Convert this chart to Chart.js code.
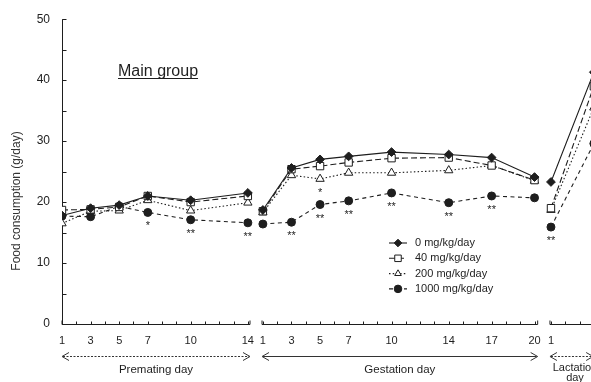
<!DOCTYPE html>
<html><head><meta charset="utf-8">
<script src="https://cdn.jsdelivr.net/npm/chart.js@4.4.0/dist/chart.umd.min.js"></script>
<style>html,body{margin:0;padding:0;background:#fff}#wrap{width:591px;height:382px;position:relative}</style>
</head><body><div id="wrap"><canvas id="c" width="591" height="382"></canvas></div>
<script>
// ---- data ----
const premDays = [1, 3, 5, 7, 10, 14];
const gestDays = [1, 3, 5, 7, 10, 14, 17, 20];
const lactDays = [1, 4];

const premTickLabels = ['1', '3', '5', '7', '10', '14'];
const gestTickLabels = ['1', '3', '5', '7', '10', '14', '17', '20'];
const lactTickLabels = ['1'];
const yTickValues = [0, 10, 20, 30, 40, 50];

const doseLabels = ['0 mg/kg/day', '40 mg/kg/day', '200 mg/kg/day', '1000 mg/kg/day'];

const dose0Prem = [17.8, 19.0, 19.5, 21.0, 20.3, 21.5];
const dose0Gest = [18.7, 25.6, 27.0, 27.5, 28.2, 27.8, 27.3, 24.1];
const dose0Lact = [23.3, 41.3];

const dose40Prem = [18.7, 18.8, 19.2, 21.0, 20.0, 21.0];
const dose40Gest = [18.5, 25.4, 25.9, 26.5, 27.2, 27.3, 26.0, 23.6];
const dose40Lact = [19.0, 39.0];

const dose200Prem = [16.5, 18.5, 18.6, 20.3, 18.6, 19.9];
const dose200Gest = [18.3, 24.4, 23.8, 24.8, 24.8, 25.2, 26.0, 23.5];
const dose200Lact = [18.7, 35.5];

const dose1000Prem = [17.7, 17.6, 19.3, 18.3, 17.1, 16.6];
const dose1000Gest = [16.4, 16.7, 19.6, 20.2, 21.5, 19.9, 21.0, 20.7];
const dose1000Lact = [15.9, 29.6];

const sig200Gest = ['', '', '*', '', '', '', '', ''];
const sig1000Prem = ['', '', '', '*', '**', '**'];
const sig1000Gest = ['', '**', '**', '**', '**', '**', '**', ''];
const sig1000Lact = ['**', ''];

const periodLabels = ['Premating day', 'Gestation day', 'Lactation', 'day'];
const panelTitle = 'Main group';
const yTitle = 'Food consumption (g/day)';

// ---- layout of the broken x axis (segment offsets in day units) ----
const GEST_OFF = 14.05;
const LACT_OFF = 34.2;
const X_MIN = 1, X_MAX = 38;
const INK = '#1e1e1e';
const FONT = 'Arial, "Liberation Sans", sans-serif';

function series(prem, gest, lact) {
  const pts = [];
  premDays.forEach((d, i) => pts.push({x: d, y: prem[i]}));
  pts.push({x: 14.6, y: null});
  gestDays.forEach((d, i) => pts.push({x: d + GEST_OFF, y: gest[i]}));
  pts.push({x: 34.6, y: null});
  lactDays.forEach((d, i) => pts.push({x: d + LACT_OFF, y: lact[i]}));
  return pts;
}

const styles = [
  {dash: [], point: 'rectRot', r: 4.4, fill: INK},
  {dash: [6, 3], point: 'rect', r: 5.2, fill: '#fff'},
  {dash: [1.5, 2.2], point: 'triangle', r: 4.8, fill: '#fff'},
  {dash: [4, 3.5], point: 'circle', r: 4, fill: INK}
];
const seriesData = [
  series(dose0Prem, dose0Gest, dose0Lact),
  series(dose40Prem, dose40Gest, dose40Lact),
  series(dose200Prem, dose200Gest, dose200Lact),
  series(dose1000Prem, dose1000Gest, dose1000Lact)
];

const datasets = seriesData.map((d, i) => ({
  label: doseLabels[i],
  data: d,
  borderColor: INK,
  borderWidth: 1.1,
  borderDash: styles[i].dash,
  pointStyle: styles[i].point,
  pointRadius: styles[i].r,
  pointBorderWidth: 1,
  pointBorderColor: INK,
  pointBackgroundColor: styles[i].fill,
  spanGaps: false,
  tension: 0
}));

function drawMarker(ctx, style, x, y, r, fill) {
  ctx.save();
  ctx.setLineDash([]);
  ctx.beginPath();
  if (style === 'rectRot') {
    ctx.moveTo(x, y - r); ctx.lineTo(x + r, y); ctx.lineTo(x, y + r); ctx.lineTo(x - r, y); ctx.closePath();
  } else if (style === 'rect') {
    const s = r * Math.SQRT1_2;
    ctx.rect(x - s, y - s, 2 * s, 2 * s);
  } else if (style === 'triangle') {
    ctx.moveTo(x, y - r); ctx.lineTo(x + r * 0.87, y + r * 0.5); ctx.lineTo(x - r * 0.87, y + r * 0.5); ctx.closePath();
  } else {
    ctx.arc(x, y, r, 0, Math.PI * 2);
  }
  ctx.fillStyle = fill; ctx.fill();
  ctx.strokeStyle = INK; ctx.lineWidth = 1; ctx.stroke();
  ctx.restore();
}

function arrow(ctx, x0, x1, y, dash) {
  ctx.save();
  ctx.strokeStyle = '#333'; ctx.lineWidth = 1;
  ctx.setLineDash(dash);
  ctx.beginPath(); ctx.moveTo(x0 + 1, y); ctx.lineTo(x1 - 1, y); ctx.stroke();
  ctx.setLineDash([]);
  ctx.beginPath();
  ctx.moveTo(x0 + 7, y - 4); ctx.lineTo(x0, y); ctx.lineTo(x0 + 7, y + 4);
  ctx.moveTo(x1 - 7, y - 4); ctx.lineTo(x1, y); ctx.lineTo(x1 - 7, y + 4);
  ctx.stroke();
  ctx.restore();
}

const decor = {
  id: 'decor',
  beforeDatasetsDraw(chart) {
    const ctx = chart.ctx, xs = chart.scales.x, ys = chart.scales.y, ca = chart.chartArea;
    ctx.save();
    ctx.strokeStyle = INK; ctx.lineWidth = 1;
    // y axis
    const ax = Math.round(ca.left) + 0.5;
    ctx.beginPath(); ctx.moveTo(ax, ys.getPixelForValue(50)); ctx.lineTo(ax, ys.getPixelForValue(0)); ctx.stroke();
    for (let v = 0; v <= 50; v += 5) {
      const py = Math.round(ys.getPixelForValue(v)) + 0.5;
      ctx.beginPath(); ctx.moveTo(ax, py); ctx.lineTo(ax + 4, py); ctx.stroke();
    }
    // broken x axis
    const by = Math.round(ys.getPixelForValue(0)) + 0.5;
    const segs = [
      {a: 1, b: 14.15, ticks: Array.from({length: 14}, (_, i) => i + 1)},
      {a: 0.94 + GEST_OFF, b: 20.22 + GEST_OFF, ticks: Array.from({length: 20}, (_, i) => i + 1 + GEST_OFF)},
      {a: 0.93 + LACT_OFF, b: 6 + LACT_OFF, ticks: [1, 2, 3, 4].map(d => d + LACT_OFF)}
    ];
    segs.forEach(s => {
      const pa = xs.getPixelForValue(s.a), pb = xs.getPixelForValue(s.b);
      ctx.beginPath(); ctx.moveTo(pa, by); ctx.lineTo(pb, by); ctx.stroke();
      ctx.beginPath(); ctx.moveTo(pa, by); ctx.lineTo(pa, by - 4); ctx.moveTo(pb, by); ctx.lineTo(pb, by - 4); ctx.stroke();
      s.ticks.forEach(t => {
        const px = Math.round(xs.getPixelForValue(t)) + 0.5;
        ctx.beginPath(); ctx.moveTo(px, by); ctx.lineTo(px, by - 3); ctx.stroke();
      });
    });
    ctx.restore();
  },
  afterDraw(chart) {
    const ctx = chart.ctx, xs = chart.scales.x, ys = chart.scales.y, ca = chart.chartArea;
    ctx.save();
    ctx.fillStyle = INK;
    // x tick labels
    ctx.font = '11px ' + FONT; ctx.textAlign = 'center'; ctx.textBaseline = 'middle';
    const ly = ys.getPixelForValue(0) + 17;
    premDays.forEach((d, i) => ctx.fillText(premTickLabels[i], xs.getPixelForValue(d), ly));
    gestDays.forEach((d, i) => ctx.fillText(gestTickLabels[i], xs.getPixelForValue(d + GEST_OFF), ly));
    ctx.fillText(lactTickLabels[0], xs.getPixelForValue(lactDays[0] + LACT_OFF), ly);
    // period arrows
    const ay = ys.getPixelForValue(0) + 32.5;
    arrow(ctx, xs.getPixelForValue(1), xs.getPixelForValue(14.15), ay, [2, 1.5]);
    arrow(ctx, xs.getPixelForValue(0.94 + GEST_OFF), xs.getPixelForValue(20.22 + GEST_OFF), ay, []);
    arrow(ctx, xs.getPixelForValue(0.93 + LACT_OFF), xs.getPixelForValue(3.95 + LACT_OFF), ay, [2, 1.5]);
    ctx.font = '11.5px ' + FONT;
    const ty = ys.getPixelForValue(0) + 46;
    ctx.fillText(periodLabels[0], (xs.getPixelForValue(1) + xs.getPixelForValue(14.15)) / 2, ty);
    ctx.fillText(periodLabels[1], (xs.getPixelForValue(0.94 + GEST_OFF) + xs.getPixelForValue(20.22 + GEST_OFF)) / 2, ty);
    ctx.font = '11px ' + FONT;
    ctx.fillText(periodLabels[2], 575, ty - 2);
    ctx.fillText(periodLabels[3], 575, ty + 8);
    // y title
    ctx.save();
    ctx.translate(17, 201); ctx.rotate(-Math.PI / 2);
    ctx.font = '12px ' + FONT; ctx.fillStyle = '#333';
    ctx.fillText(yTitle, 0, 0);
    ctx.restore();
    // panel title
    ctx.font = '16px ' + FONT; ctx.textAlign = 'left'; ctx.textBaseline = 'alphabetic';
    ctx.fillText(panelTitle, 118, 76);
    const w = ctx.measureText(panelTitle).width;
    ctx.fillRect(118, 78, w, 1);
    // significance marks
    ctx.font = '11px ' + FONT; ctx.textAlign = 'center';
    const star = (xv, yv, s) => { if (s) ctx.fillText(s, xs.getPixelForValue(xv), ys.getPixelForValue(yv) + 17); };
    premDays.forEach((d, i) => star(d, dose1000Prem[i], sig1000Prem[i]));
    gestDays.forEach((d, i) => star(d + GEST_OFF, dose1000Gest[i], sig1000Gest[i]));
    gestDays.forEach((d, i) => star(d + GEST_OFF, dose200Gest[i], sig200Gest[i]));
    lactDays.forEach((d, i) => star(d + LACT_OFF, dose1000Lact[i], sig1000Lact[i]));
    // legend
    ctx.textBaseline = 'middle'; ctx.textAlign = 'left'; ctx.font = '11px ' + FONT;
    doseLabels.forEach((lab, i) => {
      const y = 243 + i * 15.3;
      ctx.save();
      ctx.strokeStyle = INK; ctx.lineWidth = 1.1; ctx.setLineDash(styles[i].dash);
      ctx.beginPath(); ctx.moveTo(389, y); ctx.lineTo(407, y); ctx.stroke();
      ctx.restore();
      drawMarker(ctx, styles[i].point, 398, y, i === 1 ? 4.6 : 3.8, styles[i].fill);
      ctx.fillStyle = INK;
      ctx.fillText(lab, 415, y);
    });
    ctx.restore();
  }
};

new Chart(document.getElementById('c'), {
  type: 'line',
  data: {datasets},
  options: {
    responsive: false,
    animation: false,
    devicePixelRatio: 1,
    layout: {padding: {top: 15, left: 0, right: 0, bottom: 0}, autoPadding: false},
    plugins: {legend: {display: false}, tooltip: {enabled: false}},
    scales: {
      x: {
        type: 'linear', min: X_MIN, max: X_MAX,
        grid: {display: false, drawTicks: false}, border: {display: false},
        ticks: {display: false},
        afterFit: s => { s.height = 58; }
      },
      y: {
        type: 'linear', min: 0, max: 50,
        grid: {display: false, drawTicks: false}, border: {display: false},
        afterBuildTicks: s => { s.ticks = yTickValues.map(v => ({value: v})); },
        ticks: {color: '#222', padding: 12, font: {family: FONT, size: 12}},
        afterFit: s => { s.width = 62; }
      }
    }
  },
  plugins: [decor]
});
</script>
</body></html>
